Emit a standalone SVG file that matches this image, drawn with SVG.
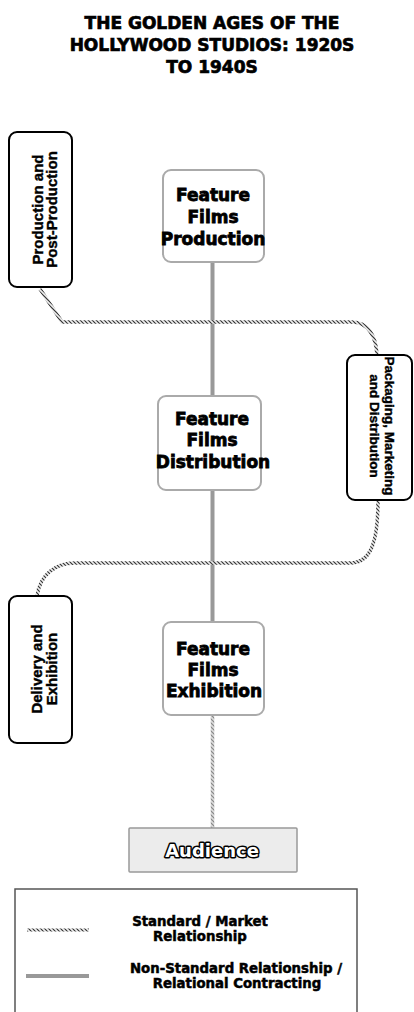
<svg xmlns="http://www.w3.org/2000/svg" width="414" height="1012" viewBox="0 0 414 1012">
<style>
.title{font-family:"DejaVu Sans",sans-serif;font-weight:bold;font-size:17px;fill:#000;stroke:#000;stroke-width:0.7;text-anchor:middle}
.main{font-family:"DejaVu Sans",sans-serif;font-weight:bold;font-size:17px;fill:#000;stroke:#000;stroke-width:0.8;text-anchor:middle}
.side{font-family:"Liberation Sans",Arial,sans-serif;font-weight:bold;font-size:15px;fill:#000;stroke:#000;stroke-width:0.4;text-anchor:middle}
.sideR{font-family:"Liberation Sans",Arial,sans-serif;font-weight:bold;font-size:13.5px;fill:#000;stroke:#000;stroke-width:0.4;text-anchor:middle}
.leg{font-family:"DejaVu Sans",sans-serif;font-weight:bold;font-size:13.3px;fill:#000;stroke:#000;stroke-width:0.5;text-anchor:middle}
.fbox{fill:#fff;stroke:#aaa;stroke-width:2}
.sbox{fill:#fff;stroke:#000;stroke-width:2}
.solid{stroke:#999;stroke-width:4;fill:none}
.hatch{stroke:url(#hatch);stroke-width:3.5;fill:none}
.hatchL{stroke:url(#hatchL);stroke-width:3.5;fill:none}
</style>
<defs>
<pattern id="hatch" width="4" height="4" patternUnits="userSpaceOnUse">
<rect width="4" height="4" fill="#eeeeee"/>
<path d="M0,0 L4,4 M-1,3 L1,5 M3,-1 L5,1" stroke="#333" stroke-width="1.2"/>
</pattern>
<pattern id="hatchL" width="4" height="4" patternUnits="userSpaceOnUse">
<rect width="4" height="4" fill="#dddddd"/>
<path d="M0,0 L4,4 M-1,3 L1,5 M3,-1 L5,1" stroke="#888" stroke-width="1.2"/>
</pattern>
</defs>
<rect width="414" height="1012" fill="#fff"/>
<g id="title">
<text class="title" x="212" y="29">THE GOLDEN AGES OF THE</text>
<text class="title" x="212" y="51">HOLLYWOOD STUDIOS: 1920S</text>
<text class="title" x="212" y="73">TO 1940S</text>
</g>
<g id="connectors">
<line class="solid" x1="212.5" y1="262" x2="212.5" y2="396"/>
<line class="solid" x1="212.5" y1="490" x2="212.5" y2="622"/>
<path class="hatch" d="M40,289 L62,322 L352,322 C368,322 376,336 377,355"/>
<path class="hatch" d="M378,500 C378,540 372,563 350,563 L75,563 C55,563 40,575 37,596"/>
<line class="hatchL" x1="212.5" y1="715" x2="212.5" y2="828"/>
</g>
<g id="node-production-post">
<rect class="sbox" x="9" y="132" width="63" height="155" rx="8"/>
<text class="side" transform="translate(43,209.5) rotate(-90)">Production and</text>
<text class="side" transform="translate(57,209.5) rotate(-90)">Post-Production</text>
</g>
<g id="node-ff-production">
<rect class="fbox" x="163" y="170" width="101" height="92" rx="8"/>
<text class="main" x="213" y="201">Feature</text>
<text class="main" x="213" y="223">Films</text>
<text class="main" x="213" y="245">Production</text>
</g>
<g id="node-packaging">
<rect class="sbox" x="347" y="355" width="65" height="145" rx="8"/>
<text class="sideR" transform="translate(385,426) rotate(90)">Packaging, Marketing</text>
<text class="sideR" transform="translate(370,426) rotate(90)">and Distribution</text>
</g>
<g id="node-ff-distribution">
<rect class="fbox" x="158" y="396" width="103" height="94" rx="8"/>
<text class="main" x="212" y="425">Feature</text>
<text class="main" x="212" y="446">Films</text>
<text class="main" x="213" y="468">Distribution</text>
</g>
<g id="node-delivery">
<rect class="sbox" x="9" y="596" width="63" height="147" rx="8"/>
<text class="side" transform="translate(42,669) rotate(-90)">Delivery and</text>
<text class="side" transform="translate(57,669) rotate(-90)">Exhibition</text>
</g>
<g id="node-ff-exhibition">
<rect class="fbox" x="163" y="622" width="101" height="93" rx="8"/>
<text class="main" x="213" y="655">Feature</text>
<text class="main" x="213" y="676">Films</text>
<text class="main" x="214" y="697">Exhibition</text>
</g>
<g id="node-audience">
<rect x="129" y="828" width="168" height="44" fill="#ececec" stroke="#999" stroke-width="1.5" rx="1"/>
<text x="212" y="857" font-family="DejaVu Sans, sans-serif" font-weight="bold" font-size="18" text-anchor="middle" fill="#fff" stroke="#000" stroke-width="3" paint-order="stroke" stroke-linejoin="round">Audience</text>
</g>
<g id="legend">
<rect x="15" y="889" width="342" height="140" fill="#fff" stroke="#555" stroke-width="1.5"/>
<line class="hatch" x1="27" y1="930" x2="89" y2="930" style="stroke-width:3"/>
<line x1="26" y1="976" x2="89" y2="976" stroke="#999" stroke-width="4"/>
<text class="leg" x="200" y="926">Standard / Market</text>
<text class="leg" x="200" y="941">Relationship</text>
<text class="leg" x="236" y="973">Non-Standard Relationship /</text>
<text class="leg" x="237" y="988">Relational Contracting</text>
</g>
</svg>
